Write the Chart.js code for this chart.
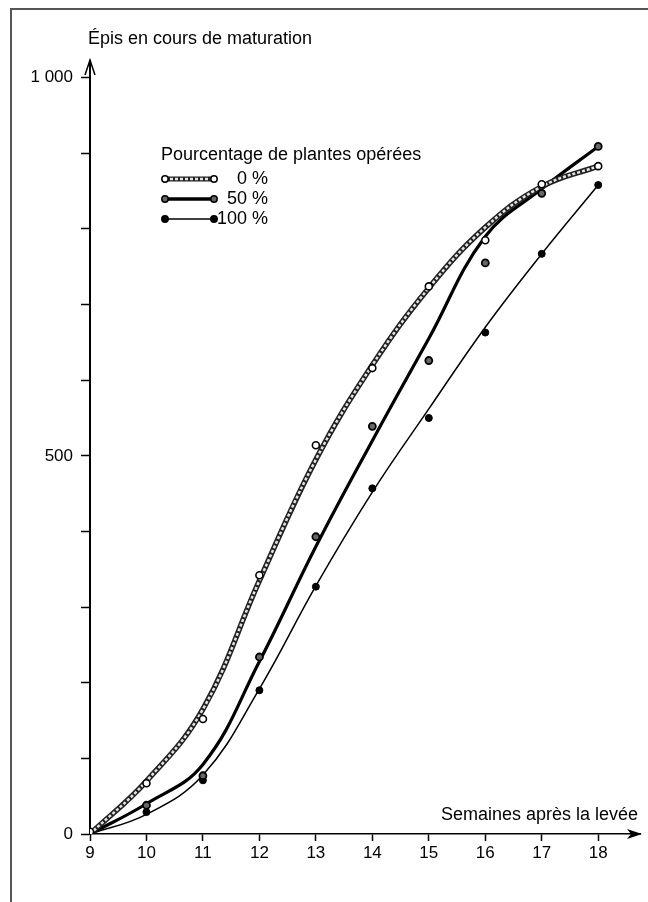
<!DOCTYPE html>
<html>
<head>
<meta charset="utf-8">
<script src="https://cdn.jsdelivr.net/npm/chart.js@4.4.1/dist/chart.umd.min.js"></script>
<style>
html,body{margin:0;padding:0;background:#fff;}
#wrap{width:648px;height:902px;position:relative;}
</style>
</head>
<body>
<div id="wrap"><canvas id="maturationChart"></canvas></div>
<script>
// semaines et relevés (points observés)
const weeks = [9, 10, 11, 12, 13, 14, 15, 16, 17, 18];
const obs0 = [3, 67, 152, 342, 514, 616, 724, 785, 859, 883];
const obs50 = [2, 38, 77, 234, 393, 539, 626, 755, 847, 909];
const obs100 = [0, 29, 71, 190, 327, 457, 550, 663, 767, 858];

// courbes ajustées
const fit0 = [0, 70, 165, 335, 495, 620, 722, 802, 856, 883];
const fit50 = [0, 40, 92, 228, 380, 520, 655, 790, 853, 909];
const fit100 = [0, 26, 78, 192, 328, 452, 562, 670, 767, 858];

const yTicks = [0, 100, 200, 300, 400, 500, 600, 700, 800, 900, 1000];
const yLabels = {0: "0", 500: "500", 1000: "1 000"};

const legendTitle = "Pourcentage de plantes opérées";
const legendLabels = ["0 %", "50 %", "100 %"];

const FONT = "'Liberation Sans', Arial, sans-serif";

function pts(ys){
  return weeks.map((w,i)=>({x:w,y:ys[i]}));
}

const decor = {
  id:"decor",
  afterDraw(chart){
    const c = chart.ctx;
    const a = chart.chartArea;
    c.save();

    // cadre
    c.strokeStyle = "#555";
    c.lineWidth = 2;
    c.beginPath();
    c.moveTo(11,902);
    c.lineTo(11,9);
    c.lineTo(648,9);
    c.stroke();

    // flèches des axes
    c.strokeStyle = "#000";
    c.fillStyle = "#000";
    c.lineWidth = 1.5;
    c.beginPath();
    c.moveTo(a.left-5,a.top+14);
    c.lineTo(a.left,a.top-1);
    c.lineTo(a.left+5,a.top+14);
    c.stroke();

    c.beginPath();
    c.moveTo(a.right+2,a.bottom);
    c.lineTo(a.right-13,a.bottom-5);
    c.lineTo(a.right-9,a.bottom);
    c.lineTo(a.right-13,a.bottom+5);
    c.closePath();
    c.fill();

    // titres des axes
    c.font = "18px " + FONT;
    c.textBaseline = "middle";
    c.textAlign = "left";
    c.fillText("Épis en cours de maturation",88,39);
    c.textAlign = "right";
    c.fillText("Semaines après la levée",638,815);

    // légende
    c.textAlign = "left";
    c.fillText(legendTitle,161,155);
    const rows = [179,199,219];
    rows.forEach((y,i)=>{
      const x1 = 165, x2 = 214;
      if(i===0){
        c.strokeStyle = "#222"; c.lineWidth = 5;
        c.beginPath(); c.moveTo(x1,y); c.lineTo(x2,y); c.stroke();
        c.strokeStyle = "#e4e4e4"; c.lineWidth = 2.5; c.setLineDash([3,2]);
        c.beginPath(); c.moveTo(x1,y); c.lineTo(x2,y); c.stroke();
        c.setLineDash([]);
      } else {
        c.strokeStyle = "#000"; c.lineWidth = i===1 ? 3.5 : 1.5;
        c.beginPath(); c.moveTo(x1,y); c.lineTo(x2,y); c.stroke();
      }
      [x1,x2].forEach(x=>{
        c.beginPath();
        c.arc(x,y,3.2,0,Math.PI*2);
        c.fillStyle = i===0 ? "#fff" : (i===1 ? "#666" : "#000");
        c.fill();
        c.strokeStyle = "#000"; c.lineWidth = 1.5;
        c.stroke();
      });
      c.fillStyle = "#000";
      c.textAlign = "right";
      c.fillText(legendLabels[i],268,y);
    });

    c.restore();
  }
};

new Chart(document.getElementById("maturationChart"),{
  type:"scatter",
  data:{
    datasets:[
      {data:pts(obs0),pointRadius:3.5,pointBackgroundColor:"#fff",pointBorderColor:"#000",pointBorderWidth:1.6,order:0},
      {data:pts(obs50),pointRadius:3.5,pointBackgroundColor:"#666",pointBorderColor:"#000",pointBorderWidth:1.8,order:0},
      {data:pts(obs100),pointRadius:3.5,pointBackgroundColor:"#000",pointBorderColor:"#000",pointBorderWidth:1,order:0},
      {data:pts(fit0),showLine:true,pointRadius:0,borderColor:"#e4e4e4",borderWidth:2.5,borderDash:[3,2],tension:0.4,order:1},
      {data:pts(fit0),showLine:true,pointRadius:0,borderColor:"#222",borderWidth:5.5,tension:0.4,order:2},
      {data:pts(fit50),showLine:true,pointRadius:0,borderColor:"#000",borderWidth:3.2,tension:0.4,order:3},
      {data:pts(fit100),showLine:true,pointRadius:0,borderColor:"#000",borderWidth:1.5,tension:0.4,order:3}
    ]
  },
  options:{
    responsive:true,
    maintainAspectRatio:false,
    animation:false,
    layout:{padding:{top:61,right:8,left:0,bottom:0}},
    plugins:{legend:{display:false},tooltip:{enabled:false}},
    scales:{
      x:{
        type:"linear",
        min:9,
        max:18.74,
        afterBuildTicks:s=>{ s.ticks = weeks.map(v=>({value:v})); },
        afterFit:s=>{ s.height = 68; },
        grid:{drawOnChartArea:false,drawTicks:true,tickLength:7,tickColor:"#000",tickWidth:1.5},
        border:{display:true,color:"#000",width:1.5},
        ticks:{color:"#000",font:{family:FONT,size:17},padding:2,maxRotation:0,autoSkip:false}
      },
      y:{
        type:"linear",
        min:0,
        max:1022,
        afterBuildTicks:s=>{ s.ticks = yTicks.map(v=>({value:v})); },
        afterFit:s=>{ s.width = 90; },
        grid:{drawOnChartArea:false,drawTicks:true,tickLength:9,tickColor:"#000",tickWidth:1.5},
        border:{display:true,color:"#000",width:2},
        ticks:{color:"#000",font:{family:FONT,size:17},padding:8,autoSkip:false,
          callback:v=>yLabels[v] !== undefined ? yLabels[v] : ""}
      }
    }
  },
  plugins:[decor]
});
</script>
</body>
</html>
